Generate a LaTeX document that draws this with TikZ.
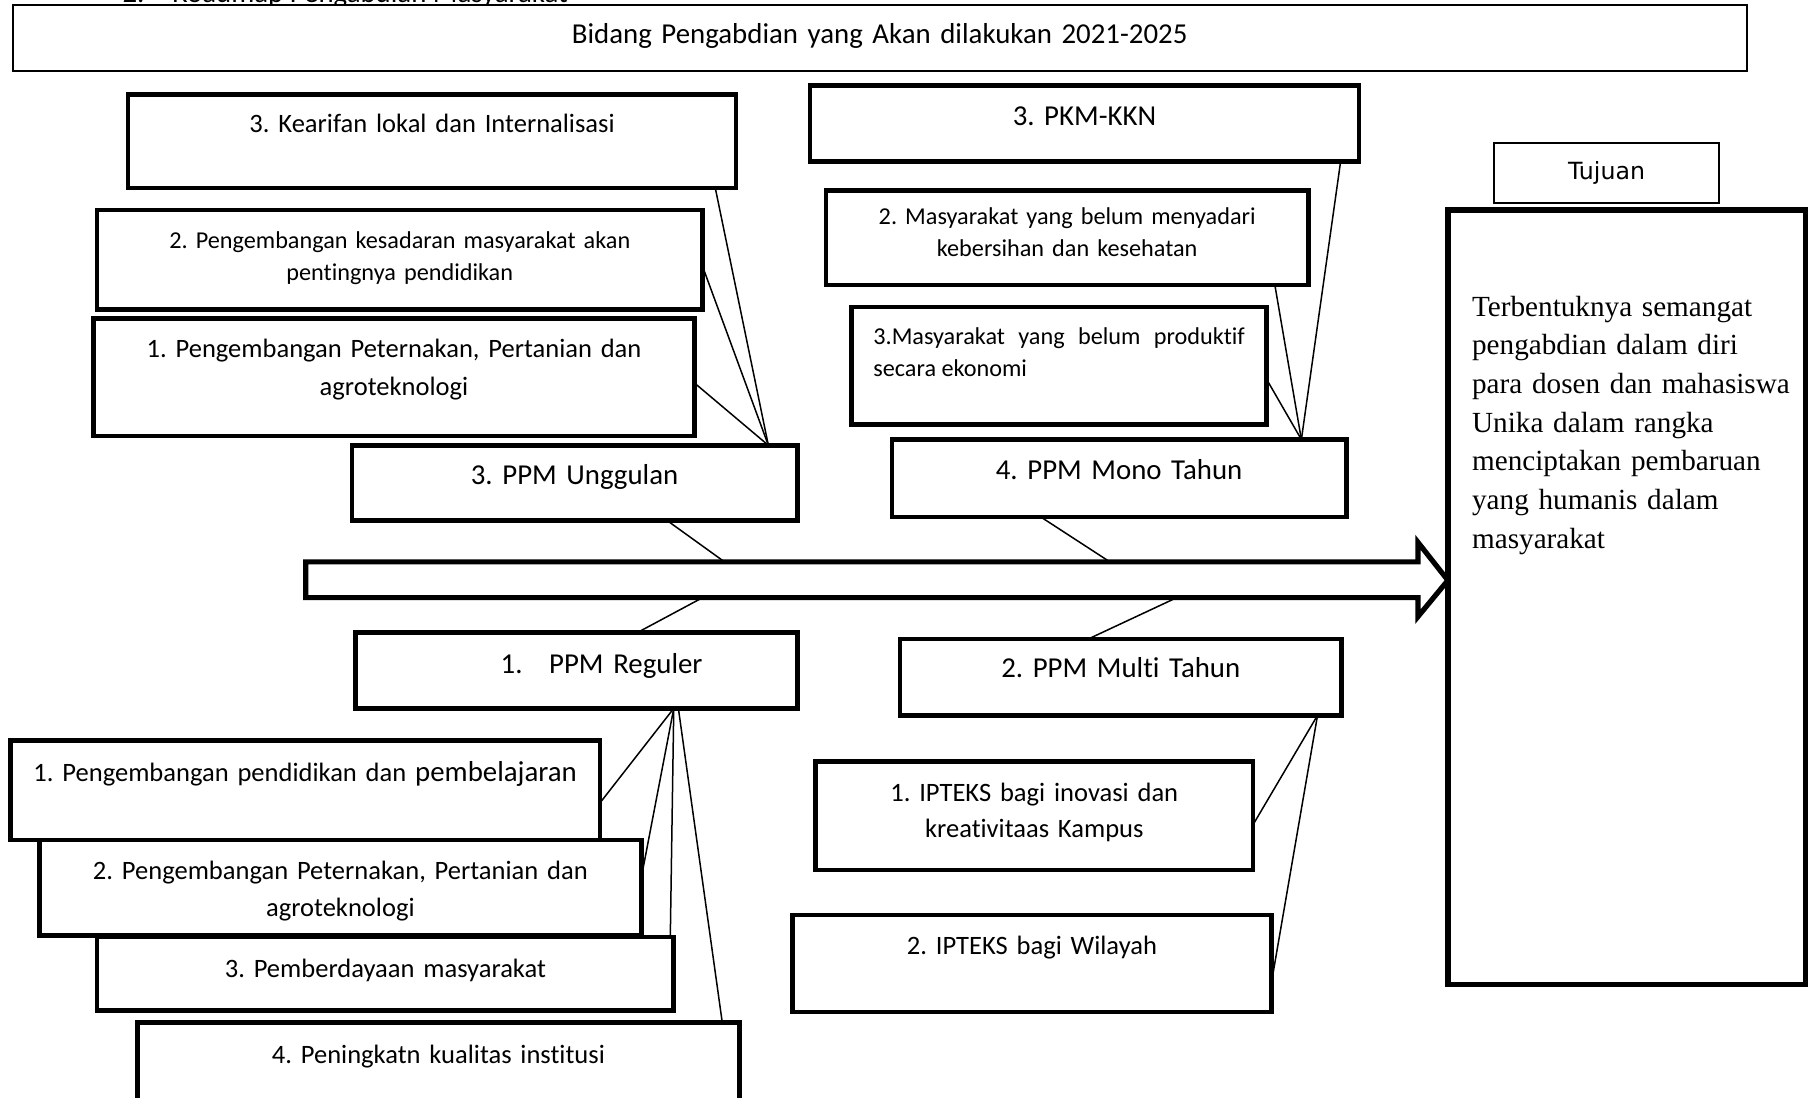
\documentclass[tikz,border=0pt]{standalone}
\usepackage{fontspec}
\setmainfont{Carlito}[Ligatures=NoCommon]
\newfontfamily\tjserif{Liberation Serif}
\newfontfamily\tjsans{DejaVu Sans}
\newcommand{\fz}[2]{\fontsize{#1pt}{#2pt}\selectfont}
\newcommand{\tjind}{\hspace*{21pt}}
\frenchspacing
\begin{document}
\begin{tikzpicture}[x=1pt,y=-1pt,
  bx/.style={draw, line width=4pt, fill=white, inner sep=0pt, outer sep=0pt, anchor=north west, align=center},
  thinbx/.style={draw, line width=1.5pt, fill=white, inner sep=0pt, outer sep=0pt, anchor=north west, align=center},
  conn/.style={line width=1.3pt},
  fbig/.style={font=\fz{25}{30}},
  fmid/.style={font=\fz{23}{32}},
  fsmall/.style={font=\fz{21}{28.5}}
]
\useasboundingbox (0,0) rectangle (1568,951);

% cut-off heading at the very top
\node[fbig, anchor=base west, inner sep=0pt] (road) at (106,2) {\makebox[43pt][l]{2.}Roadmap Pengabdian Masyarakat};

% title
\node[thinbx, fbig, text width=1503pt, text height=33.5pt, text depth=23.5pt] (title) at (11,4.5)
  {Bidang Pengabdian yang Akan dilakukan 2021-2025};

% upper left group
\node[bx, fmid, text width=527pt, text height=32.5pt, text depth=48.5pt] (K3) at (111,82)
  {3. Kearifan lokal dan Internalisasi};
\node[bx, fsmall, text width=525pt, text height=33pt, text depth=53pt] (K2) at (84,182)
  {2. Pengembangan kesadaran masyarakat akan\\ pentingnya pendidikan};
\node[bx, font=\fz{23}{33}, text width=521pt, text height=33.5pt, text depth=68.5pt] (K1) at (81,276)
  {1. Pengembangan Peternakan, Pertanian dan\\ agroteknologi};
\node[bx, fbig, text width=386pt, text height=34pt, text depth=31pt] (U) at (305,386)
  {3. PPM Unggulan};

% upper right group
\node[bx, fbig, text width=476pt, text height=34.5pt, text depth=31.5pt] (PKM) at (702,74)
  {3. PKM-KKN};
\node[bx, font=\fz{21}{28}, text width=418pt, text height=29.5pt, text depth=52.5pt] (M2) at (716,165)
  {2. Masyarakat yang belum menyadari\\ kebersihan dan kesehatan};
\node[bx, font=\fz{21}{28}, align=justify, text width=322pt, inner xsep=19pt, text height=32.5pt, text depth=69.5pt] (M3) at (738,266)
  {3.Masyarakat yang belum produktif secara ekonomi};
\node[bx, fbig, text width=394pt, text height=34.5pt, text depth=32.5pt] (MONO) at (773,381)
  {4. PPM Mono Tahun};

% lower left group
\node[bx, fbig, align=left, text width=383pt, text height=35.5pt, text depth=30.5pt] (REG) at (308,548)
  {\hspace*{126pt}\makebox[42pt][l]{1.}PPM Reguler};
\node[bx, fmid, text width=511pt, text height=35pt, text depth=51pt] (P1) at (9,642)
  {1. Pengembangan pendidikan dan {\fz{25}{30}pembelajaran}};
\node[bx, font=\fz{23}{32}, text width=522pt, text height=34pt, text depth=49pt] (P2) at (34,728)
  {2. Pengembangan Peternakan, Pertanian dan\\ agroteknologi};
\node[bx, fmid, text width=500pt, text height=35pt, text depth=29pt] (P3) at (84,812)
  {3. Pemberdayaan masyarakat};
\node[bx, fmid, text width=522pt, text height=36pt, text depth=44pt] (P4) at (119,886)
  {4. Peningkatn kualitas institusi};

% lower right group
\node[bx, fbig, text width=383pt, text height=33.5pt, text depth=32.5pt] (MULTI) at (780,554)
  {2. PPM Multi Tahun};
\node[bx, font=\fz{23}{31}, text width=379pt, text height=35pt, text depth=59pt] (IP1) at (707,660)
  {1. IPTEKS bagi inovasi dan\\ kreativitaas Kampus};
\node[bx, fmid, text width=415pt, text height=34pt, text depth=50pt] (IP2) at (687,793)
  {2. IPTEKS bagi Wilayah};

% main arrow
\draw[line width=4.5pt, fill=white, line join=miter]
  (265,487) -- (1229,487) -- (1229,470) -- (1255,503) -- (1229,534.5) -- (1229,518) -- (265,518) -- cycle;
\coordinate (aT1) at (628,487);
\coordinate (aT2) at (962,487);
\coordinate (aB1) at (609,518);
\coordinate (aB2) at (1020,518);

% goal
\node[thinbx, font={\tjsans\fz{20.5}{24}}, text width=195pt, text height=32pt, text depth=20pt] (TujL) at (1295,124)
  {Tujuan};
\node[bx, line width=4.5pt, font={\tjserif\fz{25.3}{33.5}}, align=left, text width=310pt, text height=92pt, text depth=579pt] (TujB) at (1255,182)
  {\tjind Terbentuknya semangat\\ \tjind pengabdian dalam diri\\ \tjind para dosen dan mahasiswa\\ \tjind Unika dalam rangka\\ \tjind menciptakan pembaruan\\ \tjind yang humanis dalam\\ \tjind masyarakat};

% connector end points on the boxes
\path (U.north west) ++(361,0) coordinate (uA);
\path (U.south west) ++(273,0) coordinate (uB);
\path (K3.south west) ++(509,0) coordinate (k3b);
\path (K2.north east) ++(0,49) coordinate (k2r);
\path (K1.north east) ++(0,56) coordinate (k1r);

\path (MONO.north west) ++(355,0) coordinate (monoA);
\path (MONO.south west) ++(129,0) coordinate (monoB);
\path (PKM.south east) ++(-16,0) coordinate (pkb);
\path (M2.south west) ++(389,0) coordinate (m2b);
\path (M3.north east) ++(0,63) coordinate (m3r);

\path (REG.north west) ++(245,0) coordinate (regT);
\path (REG.south west) ++(276,0) coordinate (regA);
\path (REG.south west) ++(280,0) coordinate (regA2);
\path (P1.north east) ++(0,54) coordinate (p1r);
\path (P2.north east) ++(0,32) coordinate (p2r);
\path (P3.north west) ++(497,0) coordinate (p3t);
\path (P4.north west) ++(507,0) coordinate (p4t);

\path (MULTI.north west) ++(163,0) coordinate (multiT);
\path (MULTI.south west) ++(362,0) coordinate (multiA);
\path (IP1.north east) ++(0,55) coordinate (ip1r);
\path (IP2.north east) ++(0,59) coordinate (ip2r);

% connectors
\draw[conn] (uA) -- (k3b);
\draw[conn] (uA) -- (k2r);
\draw[conn] (uA) -- (k1r);
\draw[conn] (uB) -- (aT1);

\draw[conn] (monoA) -- (pkb);
\draw[conn] (monoA) -- (m2b);
\draw[conn] (monoA) -- (m3r);
\draw[conn] (monoB) -- (aT2);

\draw[conn] (aB1) -- (regT);
\draw[conn] (regA) -- (p1r);
\draw[conn] (regA) -- (p2r);
\draw[conn] (regA) -- (p3t);
\draw[conn] (regA2) -- (p4t);

\draw[conn] (aB2) -- (multiT);
\draw[conn] (multiA) -- (ip1r);
\draw[conn] (multiA) -- (ip2r);
\end{tikzpicture}
\end{document}
